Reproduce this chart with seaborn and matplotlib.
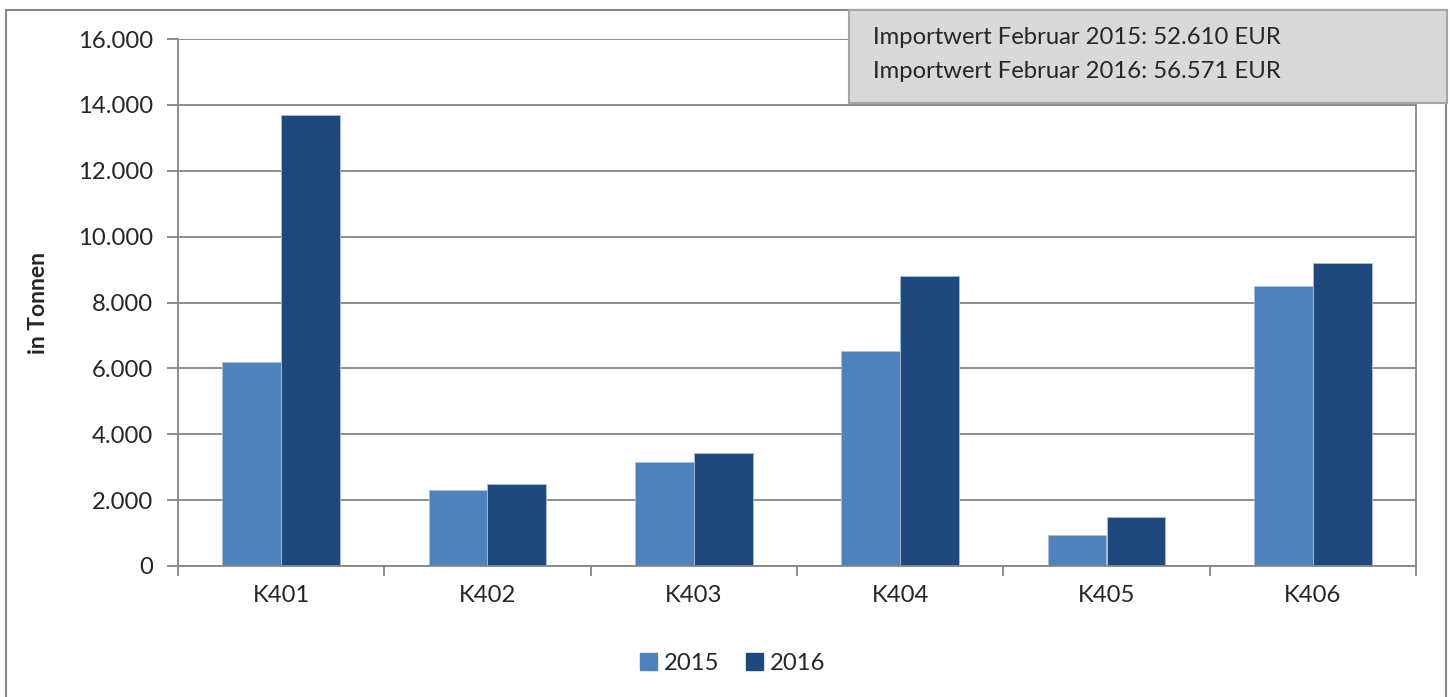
import pandas as pd
import seaborn as sns
import matplotlib.pyplot as plt
from matplotlib.patches import Rectangle

# Data
categories = ["K401", "K402", "K403", "K404", "K405", "K406"]
years = ["2015", "2016"]
values_2015 = [6200, 2300, 3150, 6520, 950, 8500]
values_2016 = [13700, 2490, 3420, 8800, 1480, 9200]
y_ticks = [0, 2000, 4000, 6000, 8000, 10000, 12000, 14000, 16000]
y_tick_labels = ["0", "2.000", "4.000", "6.000", "8.000", "10.000", "12.000", "14.000", "16.000"]
info_lines = ["Importwert Februar 2015: 52.610 EUR", "Importwert Februar 2016: 56.571 EUR"]

colors = {"2015": "#4F81BD", "2016": "#1F497D"}

df = pd.DataFrame({
    "Kategorie": categories * 2,
    "Jahr": ["2015"] * len(categories) + ["2016"] * len(categories),
    "Wert": values_2015 + values_2016,
})

sns.set_style("white")
plt.rcParams["font.family"] = ["Lato", "DejaVu Sans"]

FS = 17.2
W, H = 1450, 697
fig = plt.figure(figsize=(W / 100, H / 100), dpi=100)

# outer chart frame
fig.patches.append(Rectangle((6 / W, -0.01), 1440 / W, 1 - 10 / H + 0.01,
                             transform=fig.transFigure, fill=False,
                             edgecolor="#868686", linewidth=1.5, zorder=0))

ax = fig.add_axes([178 / W, 1 - 566 / H, (1416 - 178) / W, (566 - 39) / H])

sns.barplot(data=df, x="Kategorie", y="Wert", hue="Jahr", order=categories,
            hue_order=years, palette=colors, width=0.57, ax=ax,
            edgecolor="#A9BEDA", linewidth=0.6, legend=False, saturation=1)

ax.set_xlim(-0.5, len(categories) - 0.5)
ax.set_ylim(0, 16000)
ax.set_yticks(y_ticks)
ax.set_yticklabels(y_tick_labels)
ax.yaxis.grid(True, color="#868686", linewidth=1.3)
ax.set_axisbelow(True)

ax.set_xticks(range(len(categories)))
ax.set_xticklabels(categories)
ax.set_xticks([i - 0.5 for i in range(len(categories) + 1)], minor=True)
ax.tick_params(axis="x", which="major", bottom=True, length=0, pad=14, labelsize=FS)
ax.tick_params(axis="x", which="minor", bottom=True, length=7, width=1.3,
               color="#868686", direction="out")
ax.tick_params(axis="y", left=True, length=8, width=1.3, color="#868686",
               direction="out", pad=10, labelsize=FS)

for side in ["left", "bottom", "right"]:
    ax.spines[side].set_color("#868686")
    ax.spines[side].set_linewidth(1.3)
ax.spines["top"].set_visible(False)

ax.set_xlabel("")
ax.set_ylabel("in Tonnen", fontsize=16.5, fontweight="bold")
ax.yaxis.set_label_coords(-0.104, 0.5)

# info box top right
fig.patches.append(Rectangle((849 / W, 1 - 103 / H), (1447 - 849) / W, (103 - 10) / H,
                             transform=fig.transFigure, facecolor="#D9D9D9",
                             edgecolor="#A6A6A6", linewidth=1.5, zorder=5))
fig.text(873 / W, 1 - 38 / H, info_lines[0], fontsize=FS, va="center", ha="left", zorder=6)
fig.text(873 / W, 1 - 72 / H, info_lines[1], fontsize=FS, va="center", ha="left", zorder=6)

# legend
handles = [Rectangle((0, 0), 1, 1, color=colors[y]) for y in years]
fig.legend(handles, years, loc="center", bbox_to_anchor=(733 / W, 1 - 663 / H),
           ncol=2, frameon=False, fontsize=FS, handlelength=0.7, handleheight=0.7,
           handletextpad=0.3, columnspacing=1.1)

fig.savefig("out.png", dpi=100)
